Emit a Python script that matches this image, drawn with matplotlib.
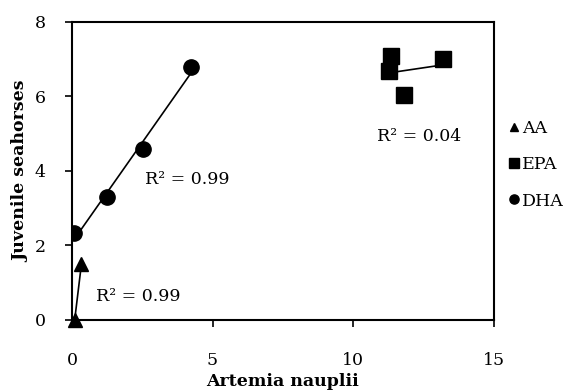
import numpy as np
import matplotlib
matplotlib.use("Agg")
import matplotlib.pyplot as plt

plt.rcParams['font.family'] = ['DejaVu Serif']

# data
aa_x = [0.1, 0.34]
aa_y = [0.0, 1.5]
epa_x = [11.34, 11.27, 11.79, 13.19]
epa_y = [7.08, 6.69, 6.03, 7.01]
dha_x = [0.08, 1.26, 2.54, 4.23]
dha_y = [2.33, 3.31, 4.60, 6.78]

fig = plt.figure(figsize=(5.75, 3.92), dpi=100)
ax = fig.add_axes([0.125, 0.184, 0.734, 0.76])

ax.plot(aa_x, aa_y, '^', color='black', ms=10, label='AA', zorder=3, clip_on=False)
ax.plot(epa_x, epa_y, 's', color='black', ms=11, label='EPA', zorder=3)
ax.plot(dha_x, dha_y, 'o', color='black', ms=11, label='DHA', zorder=3)

# linear trendlines
for xs, ys in [(aa_x, aa_y), (epa_x, epa_y), (dha_x, dha_y)]:
    k, b = np.polyfit(xs, ys, 1)
    xx = np.array([min(xs), max(xs)])
    ax.plot(xx, k * xx + b, color='black', lw=1.2, zorder=2)

ax.text(0.85, 0.62, 'R² = 0.99', fontsize=12.5, va='center')
ax.text(2.6, 3.76, 'R² = 0.99', fontsize=12.5, va='center')
ax.text(10.85, 4.92, 'R² = 0.04', fontsize=12.5, va='center')

ax.set_xlim(0, 15)
ax.set_ylim(0, 8)
ax.set_xticks([0, 5, 10, 15])
ax.set_yticks([0, 2, 4, 6, 8])
ax.tick_params(labelsize=12.5, direction='out', length=5, width=1.2)
ax.tick_params(axis='x', pad=18)
ax.tick_params(axis='y', pad=14)
for s in ax.spines.values():
    s.set_linewidth(1.5)

ax.set_xlabel('Artemia nauplii', fontsize=12.5, fontweight='bold', labelpad=3)
ax.set_ylabel('Juvenile seahorses', fontsize=12.5, fontweight='bold', labelpad=4)

ax.legend(loc='center left', bbox_to_anchor=(1.0, 0.52), frameon=False,
          handlelength=0.5, handletextpad=0.2, markerscale=0.6,
          labelspacing=1.1, fontsize=12.5)

fig.savefig('out.png', dpi=100)
